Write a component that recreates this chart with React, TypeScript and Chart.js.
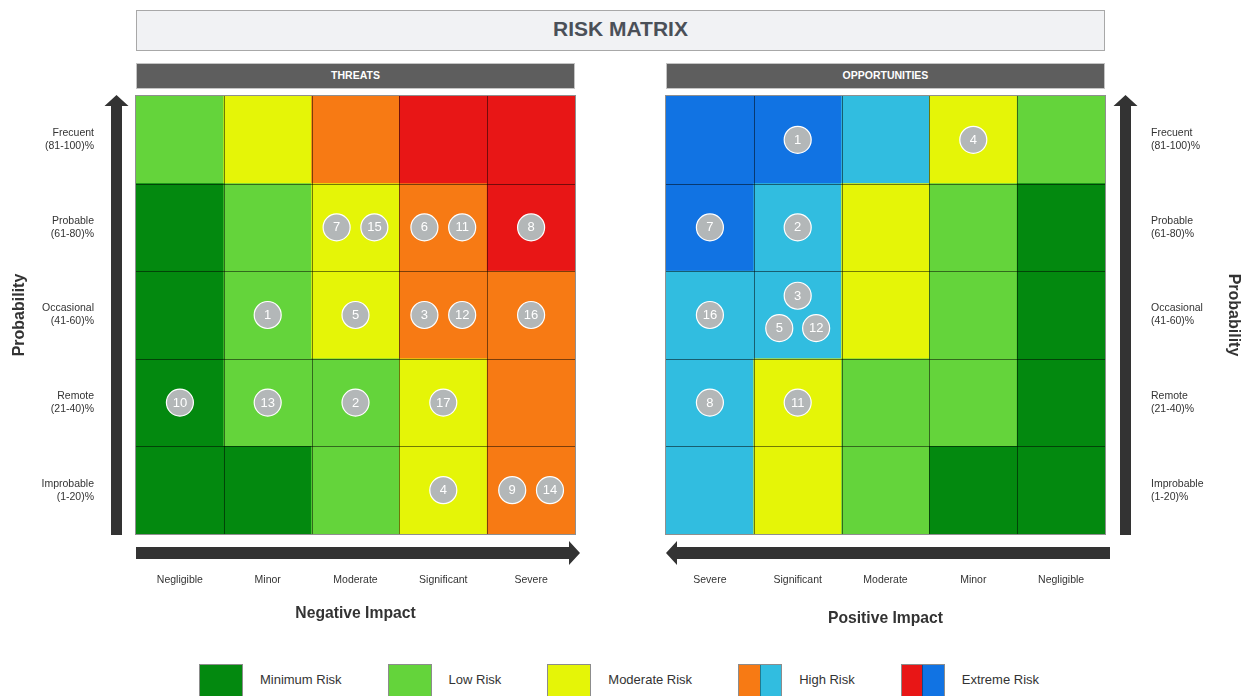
import React, { useEffect, useRef } from 'react';
import { Chart, registerables } from 'chart.js';

Chart.register(...registerables);

const FONT = '"Liberation Sans", Arial, Helvetica, sans-serif';

// ---------- data ----------
const threatImpactLabels = ['Negligible', 'Minor', 'Moderate', 'Significant', 'Severe'];
const opportunityImpactLabels = ['Severe', 'Significant', 'Moderate', 'Minor', 'Negligible'];
const probabilityLabels = [
  ['Frecuent', '(81-100)%'],
  ['Probable', '(61-80)%'],
  ['Occasional', '(41-60)%'],
  ['Remote', '(21-40)%'],
  ['Improbable', '(1-20)%'],
];
const riskLevelNames = ['Minimum Risk', 'Low Risk', 'Moderate Risk', 'High Risk', 'Extreme Risk'];
const threatColors = ['#03890f', '#64d43b', '#e5f507', '#f77a14', '#e81616'];
const opportunityColors = ['#03890f', '#64d43b', '#e5f507', '#31bde0', '#1173e3'];

// risk level per cell, rows top (Frecuent) -> bottom (Improbable)
const threatLevels = [
  [1, 2, 3, 4, 4],
  [0, 1, 2, 3, 4],
  [0, 1, 2, 3, 3],
  [0, 1, 1, 2, 3],
  [0, 0, 1, 2, 3],
];
const opportunityLevels = [
  [4, 4, 3, 2, 1],
  [4, 3, 2, 1, 0],
  [3, 3, 2, 1, 0],
  [3, 2, 1, 1, 0],
  [3, 2, 1, 0, 0],
];

// risks: id, impact column index, probability row index (0 = Frecuent)
const threatIds = [1, 2, 3, 4, 5, 6, 7, 8, 9, 10, 11, 12, 13, 14, 15, 16, 17];
const threatImpact = [1, 2, 3, 3, 2, 3, 2, 4, 4, 0, 3, 3, 1, 4, 2, 4, 3];
const threatProbability = [2, 3, 2, 4, 2, 1, 1, 1, 4, 3, 1, 2, 3, 4, 1, 2, 3];

const opportunityIds = [1, 2, 3, 4, 5, 7, 8, 11, 12, 16];
const opportunityImpact = [1, 1, 1, 3, 1, 0, 0, 1, 1, 0];
const opportunityProbability = [0, 1, 2, 0, 2, 1, 3, 3, 2, 2];

// ---------- helpers ----------
function buildCells(levels: number[][], colors: string[]) {
  const data: any[] = [];
  const bg: string[] = [];
  levels.forEach((row, r) =>
    row.forEach((lvl, c) => {
      data.push({ x: c + 0.5, y: [r, r + 1] });
      bg.push(colors[lvl]);
    })
  );
  return { data, bg };
}

function buildRisks(ids: number[], impact: number[], prob: number[]) {
  const groups = new Map<string, number[]>();
  ids.forEach((_, i) => {
    const k = impact[i] + ',' + prob[i];
    if (!groups.has(k)) groups.set(k, []);
    groups.get(k)!.push(i);
  });
  const pts: any[] = [];
  groups.forEach((idxs) => {
    const n = idxs.length;
    idxs.forEach((i, k) => {
      let dx = 0;
      let dy = 0;
      if (n === 2) dx = k === 0 ? -0.215 : 0.215;
      if (n === 3) {
        if (k === 0) dy = -0.22;
        else {
          dx = k === 1 ? -0.21 : 0.21;
          dy = 0.15;
        }
      }
      pts.push({ x: impact[i] + 0.5 + dx, y: prob[i] + 0.5 + dy, r: 13.5, id: ids[i] });
    });
  });
  return pts;
}

const gridPlugin = {
  id: 'cellGrid',
  afterDatasetDraw(chart: any, args: any) {
    if (args.meta.type !== 'bar') return;
    const { ctx, chartArea: a, scales } = chart;
    ctx.save();
    ctx.strokeStyle = 'rgba(0,0,0,0.5)';
    ctx.lineWidth = 1;
    ctx.beginPath();
    for (let i = 1; i < 5; i++) {
      const x = Math.round(scales.x.getPixelForValue(i)) + 0.5;
      ctx.moveTo(x, a.top);
      ctx.lineTo(x, a.bottom);
      const y = Math.round(scales.y.getPixelForValue(i)) + 0.5;
      ctx.moveTo(a.left, y);
      ctx.lineTo(a.right, y);
    }
    ctx.stroke();
    ctx.strokeStyle = '#8f8f8f';
    ctx.strokeRect(Math.round(a.left) - 0.5, Math.round(a.top) - 0.5, Math.round(a.right - a.left) + 1, Math.round(a.bottom - a.top) + 1);
    ctx.restore();
  },
};

const labelPlugin = {
  id: 'riskLabels',
  afterDatasetsDraw(chart: any) {
    const { ctx } = chart;
    chart.data.datasets.forEach((ds: any, di: number) => {
      if (ds.type !== 'bubble') return;
      const meta = chart.getDatasetMeta(di);
      ctx.save();
      ctx.font = `13px ${FONT}`;
      ctx.textAlign = 'center';
      ctx.textBaseline = 'middle';
      ctx.fillStyle = '#ffffff';
      meta.data.forEach((el: any, i: number) => {
        ctx.fillText(String(ds.data[i].id), el.x, el.y + 0.5);
      });
      ctx.restore();
    });
  },
};

function arrowPlugin(side: 'left' | 'right') {
  return {
    id: 'arrows',
    afterDraw(chart: any) {
      const { ctx, chartArea: a } = chart;
      ctx.save();
      ctx.fillStyle = '#333333';
      const cx = side === 'left' ? a.left - 19.5 : a.right + 20.5;
      // vertical arrow (up)
      ctx.beginPath();
      ctx.moveTo(cx, a.top - 1);
      ctx.lineTo(cx + 12, a.top + 10);
      ctx.lineTo(cx + 5.5, a.top + 10);
      ctx.lineTo(cx + 5.5, a.bottom + 1);
      ctx.lineTo(cx - 5.5, a.bottom + 1);
      ctx.lineTo(cx - 5.5, a.top + 10);
      ctx.lineTo(cx - 12, a.top + 10);
      ctx.closePath();
      ctx.fill();
      // horizontal arrow
      const cy = a.bottom + 19;
      ctx.beginPath();
      if (side === 'left') {
        const tip = a.right + 5;
        ctx.moveTo(a.left, cy - 6);
        ctx.lineTo(tip - 11, cy - 6);
        ctx.lineTo(tip - 11, cy - 12);
        ctx.lineTo(tip, cy);
        ctx.lineTo(tip - 11, cy + 12);
        ctx.lineTo(tip - 11, cy + 6);
        ctx.lineTo(a.left, cy + 6);
      } else {
        const tip = a.left;
        const end = a.right + 5;
        ctx.moveTo(end, cy - 6);
        ctx.lineTo(tip + 11, cy - 6);
        ctx.lineTo(tip + 11, cy - 12);
        ctx.lineTo(tip, cy);
        ctx.lineTo(tip + 11, cy + 12);
        ctx.lineTo(tip + 11, cy + 6);
        ctx.lineTo(end, cy + 6);
      }
      ctx.closePath();
      ctx.fill();
      ctx.restore();
    },
  };
}

function makeConfig(side: 'left' | 'right') {
  const isLeft = side === 'left';
  const cells = buildCells(isLeft ? threatLevels : opportunityLevels, isLeft ? threatColors : opportunityColors);
  const risks = isLeft
    ? buildRisks(threatIds, threatImpact, threatProbability)
    : buildRisks(opportunityIds, opportunityImpact, opportunityProbability);
  const tickFont = { family: FONT, size: 10.5, lineHeight: 1.25 };
  return {
    type: 'bar',
    data: {
      datasets: [
        {
          type: 'bubble',
          data: risks,
          backgroundColor: '#b3b7b8',
          borderColor: '#ffffff',
          borderWidth: 1.2,
          hoverRadius: 0,
        },
        {
          type: 'bar',
          data: cells.data,
          backgroundColor: cells.bg,
          borderWidth: 0,
          barPercentage: 1,
          categoryPercentage: 1,
          grouped: false,
        },
      ],
    },
    options: {
      responsive: false,
      animation: false,
      events: [],
      layout: {
        autoPadding: false,
        padding: isLeft ? { top: 6, right: 45, bottom: 0, left: 0 } : { top: 6, right: 0, bottom: 0, left: 46 },
      },
      plugins: { legend: { display: false }, tooltip: { enabled: false } },
      scales: {
        x: { type: 'linear', min: 0, max: 5, display: false, offset: false, ticks: { stepSize: 1 } },
        y: { type: 'linear', min: 0, max: 5, reverse: true, display: false, ticks: { stepSize: 1 } },
        xl: {
          type: 'category',
          axis: 'x',
          position: 'bottom',
          labels: isLeft ? threatImpactLabels : opportunityImpactLabels,
          offset: true,
          grid: { display: false, drawTicks: false },
          border: { display: false },
          ticks: { padding: 40, color: '#333333', font: tickFont, autoSkip: false, maxRotation: 0 },
          title: {
            display: true,
            text: isLeft ? 'Negative Impact' : 'Positive Impact',
            color: '#333333',
            font: { family: FONT, size: 15.7, weight: 'bold' },
            padding: { top: 0, bottom: isLeft ? 27 : 22 },
          },
          afterFit: (s: any) => {
            s.height = 116;
            s.paddingLeft = 0;
            s.paddingRight = 0;
          },
        },
        yl: {
          type: 'category',
          axis: 'y',
          position: isLeft ? 'left' : 'right',
          labels: probabilityLabels,
          offset: true,
          grid: { display: false, drawTicks: false },
          border: { display: false },
          ticks: { padding: isLeft ? 42 : 46, color: '#333333', font: tickFont, autoSkip: false },
          title: {
            display: true,
            text: 'Probability',
            color: '#333333',
            font: { family: FONT, size: 16, weight: 'bold' },
            padding: { top: isLeft ? 10 : 3.4, bottom: 0 },
          },
          afterFit: (s: any) => {
            s.width = isLeft ? 136 : 141;
            s.paddingTop = 0;
            s.paddingBottom = 0;
          },
        },
      },
    },
    plugins: [gridPlugin, labelPlugin, arrowPlugin(side)],
  };
}

function MatrixCanvas({ side, left, width }: { side: 'left' | 'right'; left: number; width: number }) {
  const ref = useRef<HTMLCanvasElement | null>(null);
  useEffect(() => {
    if (!ref.current) return;
    const chart = new Chart(ref.current, makeConfig(side) as any);
    return () => chart.destroy();
  }, [side]);
  return (
    <canvas
      ref={ref}
      width={width}
      height={560}
      style={{ position: 'absolute', left, top: 90, width, height: 560 }}
    />
  );
}

function Swatch({ colors }: { colors: string[] }) {
  return (
    <div
      style={{
        width: 44,
        height: 40,
        boxSizing: 'border-box',
        border: '1px solid #8c8c8c',
        display: 'flex',
        flex: '0 0 auto',
      }}
    >
      {colors.map((c, i) => (
        <div
          key={i}
          style={{ flex: 1, background: c, borderLeft: i > 0 ? '1px solid rgba(0,0,0,0.35)' : 'none' }}
        />
      ))}
    </div>
  );
}

export default function App() {
  const legendColors = riskLevelNames.map((_, k) =>
    threatColors[k] === opportunityColors[k] ? [threatColors[k]] : [threatColors[k], opportunityColors[k]]
  );
  return (
    <div
      style={{
        position: 'absolute',
        left: 0,
        top: 0,
        width: 1246,
        height: 696,
        overflow: 'hidden',
        background: '#ffffff',
        fontFamily: FONT,
      }}
    >
      <div
        style={{
          position: 'absolute',
          left: 136,
          top: 10,
          width: 969,
          height: 41,
          boxSizing: 'border-box',
          border: '1px solid #a8a8a8',
          background: '#f1f2f4',
          display: 'flex',
          alignItems: 'center',
          justifyContent: 'center',
          paddingBottom: 4,
          fontWeight: 'bold',
          fontSize: 21,
          color: '#4b5058',
        }}
      >
        RISK MATRIX
      </div>
      {[
        { text: 'THREATS', left: 136 },
        { text: 'OPPORTUNITIES', left: 666 },
      ].map((h) => (
        <div
          key={h.text}
          style={{
            position: 'absolute',
            left: h.left,
            top: 63,
            width: 439,
            height: 26,
            boxSizing: 'border-box',
            border: '1px solid #c4c4c4',
            background: '#5e5e5e',
            color: '#ffffff',
            fontWeight: 'bold',
            fontSize: 10.5,
            display: 'flex',
            alignItems: 'center',
            justifyContent: 'center',
            paddingBottom: 2,
          }}
        >
          {h.text}
        </div>
      ))}
      <MatrixCanvas side="left" left={0} width={620} />
      <MatrixCanvas side="right" left={620} width={626} />
      <div
        style={{
          position: 'absolute',
          left: -4,
          width: 1246,
          top: 664,
          display: 'flex',
          justifyContent: 'center',
          gap: 46,
        }}
      >
        {riskLevelNames.map((name, k) => (
          <div key={name} style={{ display: 'flex', alignItems: 'flex-start' }}>
            <Swatch colors={legendColors[k]} />
            <div style={{ marginLeft: 17, fontSize: 13, color: '#333333', lineHeight: '15px', marginTop: 8 }}>{name}</div>
          </div>
        ))}
      </div>
    </div>
  );
}
